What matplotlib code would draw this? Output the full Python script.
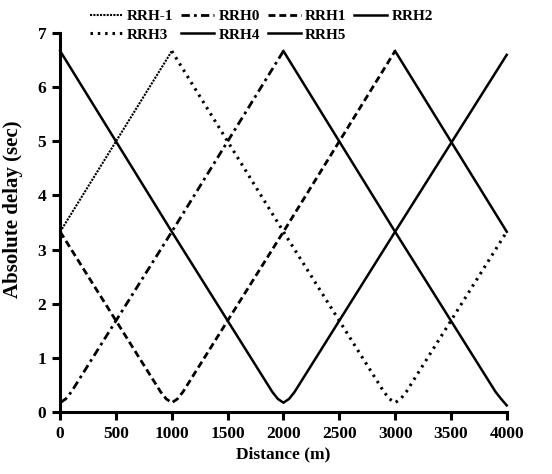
import matplotlib
matplotlib.use("Agg")
import matplotlib.pyplot as plt

plt.rcParams['font.family'] = ['Liberation Serif', 'DejaVu Serif']
plt.rcParams['font.weight'] = 'bold'

# delay (sec) seen from each RRH along the track
rrh_names = ['RRH-1', 'RRH0', 'RRH1', 'RRH2', 'RRH3', 'RRH4', 'RRH5']

x_rrh_m1 = [0, 1000]
y_rrh_m1 = [3.33, 6.67]

x_rrh0 = [0, 50, 100, 1000, 2000]
y_rrh0 = [0.17, 0.24, 0.37, 3.33, 6.67]

x_rrh1 = [0, 900, 950, 1000, 1050, 1100, 2000, 3000]
y_rrh1 = [3.33, 0.37, 0.24, 0.17, 0.24, 0.37, 3.33, 6.67]

x_rrh2 = [0, 1000, 1900, 1950, 2000, 2050, 2100, 3000, 4000]
y_rrh2 = [6.67, 3.33, 0.37, 0.24, 0.17, 0.24, 0.37, 3.33, 6.60]

x_rrh3 = [1000, 2000, 2900, 2950, 3000, 3050, 3100, 4000]
y_rrh3 = [6.67, 3.33, 0.37, 0.24, 0.17, 0.24, 0.37, 3.33]

x_rrh4 = [2000, 3000, 3900, 3950, 4000]
y_rrh4 = [6.67, 3.33, 0.37, 0.24, 0.12]

x_rrh5 = [3000, 4000]
y_rrh5 = [6.67, 3.33]

xs = [x_rrh_m1, x_rrh0, x_rrh1, x_rrh2, x_rrh3, x_rrh4, x_rrh5]
ys = [y_rrh_m1, y_rrh0, y_rrh1, y_rrh2, y_rrh3, y_rrh4, y_rrh5]

styles = [
    dict(linestyle=(0, (1, 0.6)), linewidth=1.5),
    dict(linestyle=(0, (3, 1.5, 1, 1.5)), linewidth=2.0),
    dict(linestyle=(0, (2.5, 1.4)), linewidth=2.0),
    dict(linestyle='-', linewidth=1.8),
    dict(linestyle=(0, (0.8, 1.6)), linewidth=2.2),
    dict(linestyle='-', linewidth=1.8),
    dict(linestyle='-', linewidth=1.8),
]

fig = plt.figure(figsize=(5.52, 4.74), dpi=100)
ax = fig.add_axes([0.109, 0.131, 0.809, 0.799])

lines = {}
for name, x, y, st in zip(rrh_names, xs, ys, styles):
    lines[name], = ax.plot(x, y, color='black', label=name, clip_on=False, **st)

ax.set_xlim(0, 4000)
ax.set_ylim(0, 7)
ax.set_xticks(range(0, 4001, 500))
ax.set_yticks(range(0, 8))

for side in ['top', 'right']:
    ax.spines[side].set_visible(False)
for side in ['left', 'bottom']:
    ax.spines[side].set_linewidth(2.2)
ax.tick_params(direction='out', length=6, width=2.2, labelsize=12.5, pad=4)

ax.set_xlabel('Distance (m)', fontsize=12.5, fontweight='bold', labelpad=3)
ax.set_ylabel('Absolute delay (sec)', fontsize=15, fontweight='bold')
ax.yaxis.set_label_coords(-0.083, 0.535)

# legend filled row by row: 4 entries on top, 3 below
order = ['RRH-1', 'RRH3', 'RRH0', 'RRH4', 'RRH1', 'RRH5', 'RRH2']
ax.legend([lines[n] for n in order], order, loc='lower left',
          bbox_to_anchor=(0.066, 0.978), ncol=4, frameon=False,
          fontsize=11, handlelength=2.15, handletextpad=0.3, columnspacing=0.5,
          labelspacing=0.3, borderaxespad=0, borderpad=0)

fig.savefig('out.png', dpi=100)
